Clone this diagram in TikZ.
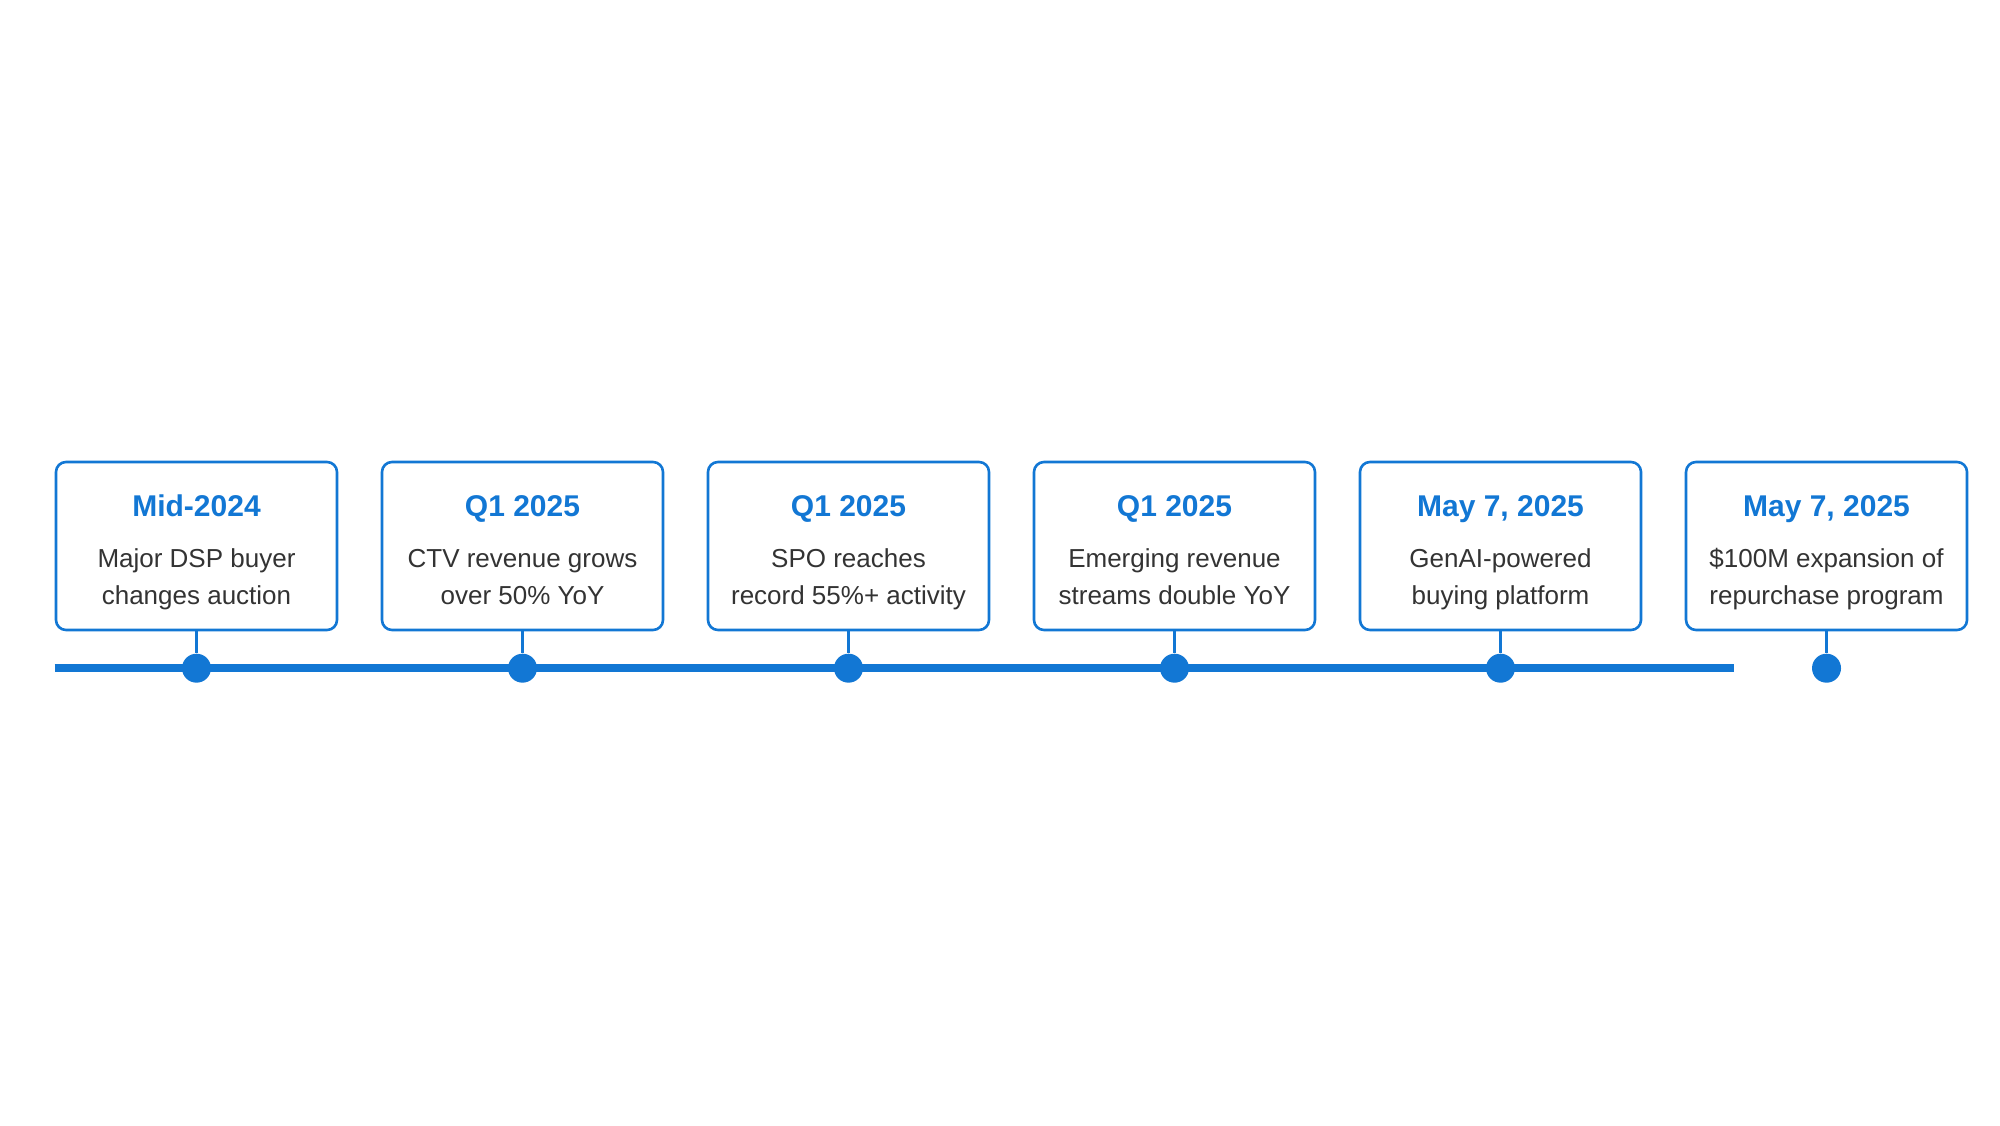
\documentclass[tikz,border=0pt]{standalone}
\usepackage{fontspec}
\setmainfont{Liberation Sans}
\usetikzlibrary{positioning}
\definecolor{tlblue}{RGB}{18,119,212}
\definecolor{tltext}{RGB}{51,51,51}
\tikzset{
  event/.style={draw=tlblue, line width=1.3pt, rounded corners=5pt, fill=white,
    minimum width=140.5pt, minimum height=84pt, inner sep=0pt},
  date/.style={text=tlblue, font=\fontsize{15}{18}\selectfont\bfseries,
    text height=11pt, text depth=0pt},
  desc/.style={text=tltext, align=center, font=\fontsize{13}{18.5}\selectfont},
  dot/.style={circle, fill=tlblue, minimum size=14.5pt, inner sep=0pt},
  stem/.style={draw=tlblue, line width=1.2pt},
  track/.style={draw=tlblue, line width=4pt},
}
\begin{document}
\begin{tikzpicture}[node distance=21.2pt]
    \useasboundingbox (0,0) rectangle (1000pt,562.5pt);
    \node[event] at (98.25pt,289.5pt) (mid24)   {}; %
    \node[event, right=of mid24]      (ctv)     {};
    \node[event, right=of ctv]        (spo)     {};
    \node[event, right=of spo]        (emerge)  {};
    \node[event, right=of emerge]     (genai)   {};
    \node[event, right=of genai]      (buyback) {};
    \foreach \n/\d/\a/\b in {mid24/Mid-2024/Major DSP buyer/changes auction,
        ctv/Q1 2025/CTV revenue grows/over 50\% YoY,
        spo/Q1 2025/SPO reaches/record 55\%+ activity,
        emerge/Q1 2025/Emerging revenue/streams double YoY,
        genai/{May 7, 2025}/GenAI-powered/buying platform,
        buyback/{May 7, 2025}/\$100M expansion of/repurchase program} {
      \node[date] at ([yshift=-22.3pt]\n.north) (\n-date) {\d};
      \node[desc] at ([yshift=-59pt]\n.north) (\n-desc) {\strut\a\\\strut\b};
      \node[dot, below=11pt of \n] (\n-dot) {};
      \draw[stem] (\n) -- (\n-dot);
    }
    \coordinate[right=116.5pt of genai-dot.center] (track-end);
    \draw[track] (mid24.west |- mid24-dot) -- (track-end);
\end{tikzpicture}
\end{document}
